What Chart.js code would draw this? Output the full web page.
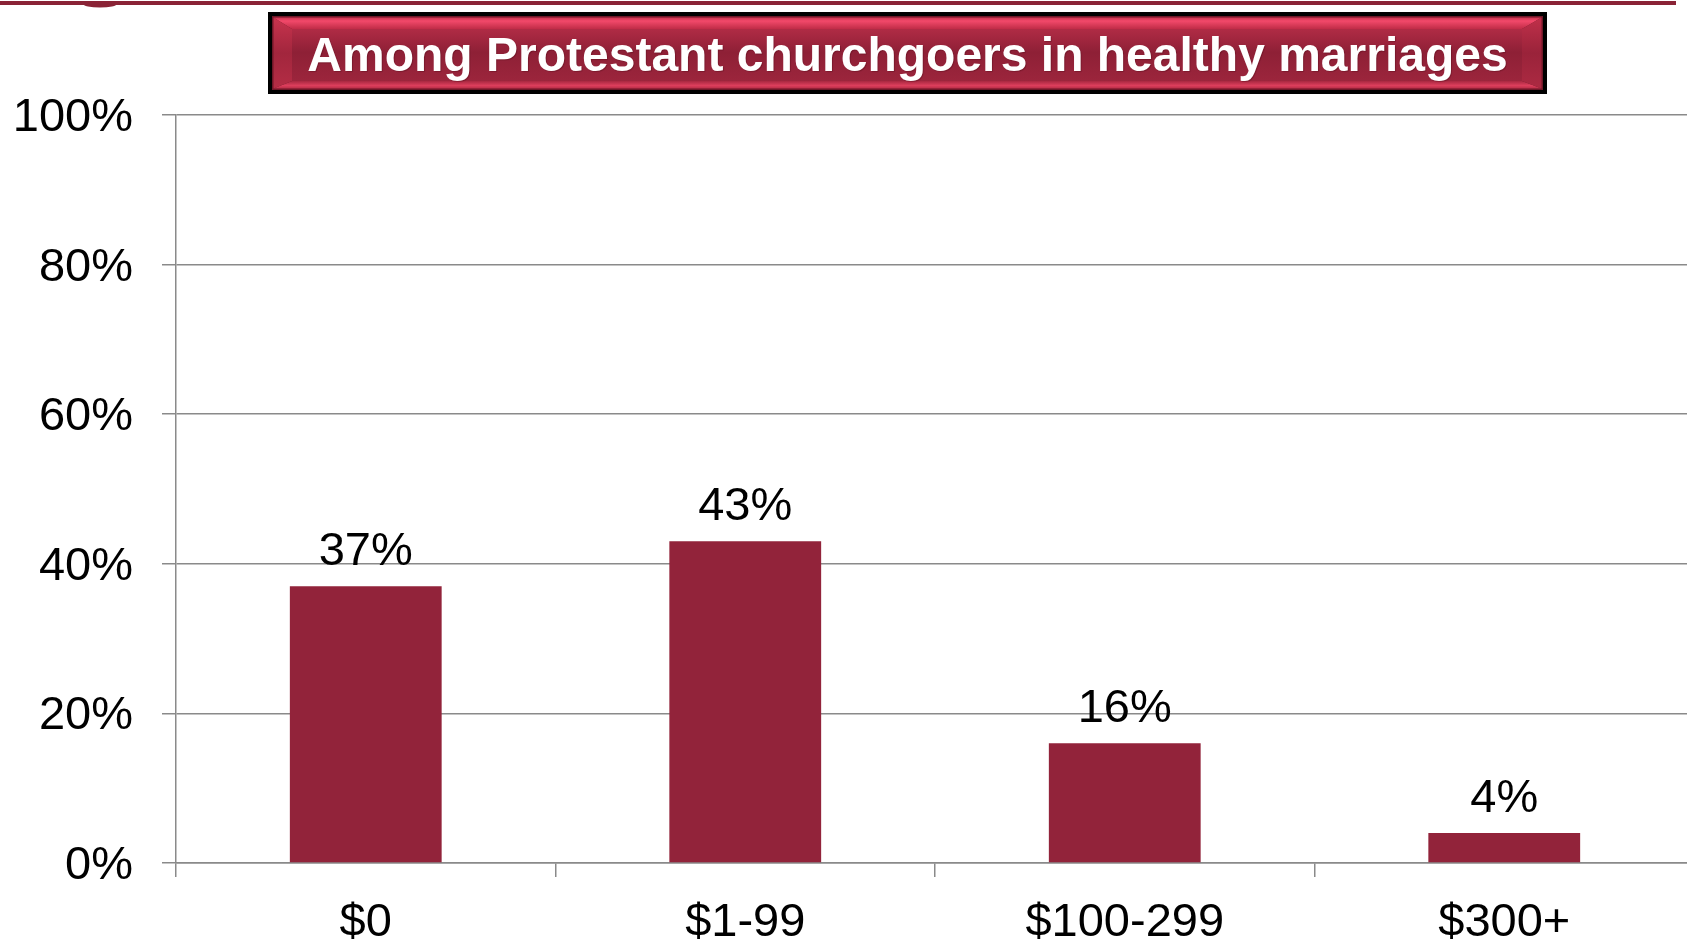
<!DOCTYPE html>
<html>
<head>
<meta charset="utf-8">
<script src="https://cdn.jsdelivr.net/npm/chart.js@4/dist/chart.umd.min.js"></script>
<style>
  html, body { margin: 0; padding: 0; background: #ffffff; overflow: hidden; width: 1687px; height: 943px; }
  #wrap { position: absolute; left: 0; top: 0; width: 1694px; height: 943px; }
</style>
</head>
<body>
<div id="wrap"><canvas id="c"></canvas></div>
<script>
const categories = ['$0', '$1-99', '$100-299', '$300+'];
const shares = [37, 43, 16, 4];
const yTicks = [0, 20, 40, 60, 80, 100];
const titleText = 'Among Protestant churchgoers in healthy marriages';

const FONT = '"Liberation Sans", Arial, sans-serif';
const GRID = '#8a8a8a';

const decorPlugin = {
  id: 'decor',
  beforeDraw(chart) {
    const ctx = chart.ctx;
    ctx.save();
    // top rule
    ctx.fillStyle = '#8a2336';
    ctx.fillRect(0, 1, 1676, 4);
    ctx.beginPath();
    ctx.ellipse(100, 4, 17, 3.5, 0, 0, Math.PI);
    ctx.fill();

    // title box
    ctx.fillStyle = '#000000';
    ctx.fillRect(268, 12, 1279, 82);
    ctx.fillStyle = '#6e1627';
    ctx.fillRect(272, 16, 1271, 74);
    const ox0 = 273.5, oy0 = 17.5, ox1 = 1541.5, oy1 = 88.5;
    const fx0 = 292, fy0 = 29, fx1 = 1522, fy1 = 81;
    function poly(pts, fill) {
      ctx.beginPath();
      ctx.moveTo(pts[0][0], pts[0][1]);
      for (let i = 1; i < pts.length; i++) ctx.lineTo(pts[i][0], pts[i][1]);
      ctx.closePath();
      ctx.fillStyle = fill;
      ctx.fill();
    }
    let g = ctx.createLinearGradient(0, oy0, 0, fy0);
    g.addColorStop(0, '#c9324d');
    g.addColorStop(0.3, '#f2496a');
    g.addColorStop(1, '#c02c47');
    poly([[ox0, oy0], [ox1, oy0], [fx1, fy0], [fx0, fy0]], g);
    g = ctx.createLinearGradient(0, fy1, 0, oy1);
    g.addColorStop(0, '#a82840');
    g.addColorStop(0.6, '#dc3e5c');
    g.addColorStop(1, '#b82e47');
    poly([[ox0, oy1], [ox1, oy1], [fx1, fy1], [fx0, fy1]], g);
    g = ctx.createLinearGradient(0, oy0, 0, oy1);
    g.addColorStop(0, '#c8334e');
    g.addColorStop(0.5, '#a2263d');
    g.addColorStop(1, '#b42d45');
    poly([[ox0, oy0], [fx0, fy0], [fx0, fy1], [ox0, oy1]], g);
    g = ctx.createLinearGradient(0, oy0, 0, oy1);
    g.addColorStop(0, '#c0304a');
    g.addColorStop(0.5, '#9a233a');
    g.addColorStop(1, '#ac2a42');
    poly([[ox1, oy0], [fx1, fy0], [fx1, fy1], [ox1, oy1]], g);
    g = ctx.createLinearGradient(0, fy0, 0, fy1);
    g.addColorStop(0, '#b02b45');
    g.addColorStop(0.45, '#8e2036');
    g.addColorStop(1, '#9c253c');
    ctx.fillStyle = g;
    ctx.fillRect(fx0, fy0, fx1 - fx0, fy1 - fy0);

    ctx.font = 'bold 48px ' + FONT;
    ctx.textAlign = 'center';
    ctx.textBaseline = 'alphabetic';
    ctx.shadowColor = 'rgba(60,0,10,0.3)';
    ctx.shadowOffsetX = 1;
    ctx.shadowOffsetY = 1;
    ctx.shadowBlur = 1;
    ctx.fillStyle = '#ffffff';
    ctx.fillText(titleText, 907.5, 71);
    ctx.restore();
  },
  afterDatasetsDraw(chart) {
    const ctx = chart.ctx;
    const meta = chart.getDatasetMeta(0);
    ctx.save();
    ctx.font = '47px ' + FONT;
    ctx.fillStyle = '#000000';
    ctx.textAlign = 'center';
    ctx.textBaseline = 'alphabetic';
    meta.data.forEach((bar, i) => {
      ctx.fillText(shares[i] + '%', bar.x, bar.y - 21);
    });
    ctx.restore();
  }
};

new Chart(document.getElementById('c'), {
  type: 'bar',
  data: {
    labels: categories,
    datasets: [{
      data: shares,
      backgroundColor: '#92233a',
      borderWidth: 0,
      categoryPercentage: 1.0,
      barPercentage: 0.4
    }]
  },
  options: {
    responsive: true,
    maintainAspectRatio: false,
    animation: false,
    layout: { padding: { top: 115, left: 0, right: 0, bottom: 0 } },
    plugins: { legend: { display: false }, tooltip: { enabled: false }, title: { display: false } },
    scales: {
      x: {
        offset: true,
        grid: { offset: true, drawOnChartArea: false, drawTicks: true, tickLength: 14, color: GRID, lineWidth: 1.5 },
        border: { display: true, color: GRID, width: 1.5 },
        ticks: { color: '#000000', font: { family: FONT, size: 47 }, padding: 18, maxRotation: 0, autoSkip: false },
        afterFit(scale) { scale.height = 80; }
      },
      y: {
        min: 0,
        max: 100,
        afterBuildTicks(scale) { scale.ticks = yTicks.map(v => ({ value: v })); },
        grid: { color: GRID, lineWidth: 1.5, tickLength: 14, drawTicks: true },
        border: { display: true, color: GRID, width: 1.5 },
        ticks: { color: '#000000', font: { family: FONT, size: 47 }, padding: 29, labelOffset: 3, callback: v => v + '%' },
        afterFit(scale) { scale.width = 176; }
      }
    }
  },
  plugins: [decorPlugin]
});
</script>
</body>
</html>
